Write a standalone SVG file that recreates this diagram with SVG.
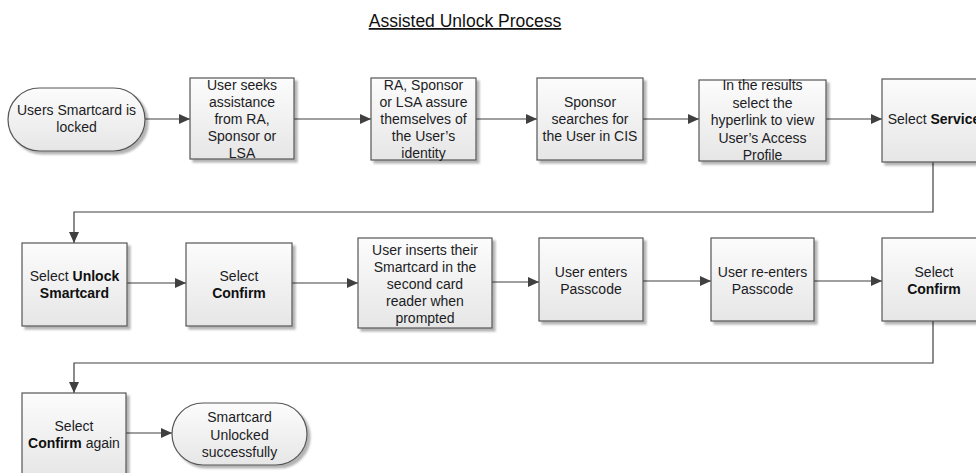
<svg xmlns="http://www.w3.org/2000/svg" width="976" height="473" viewBox="0 0 976 473">
  <defs>
    <linearGradient id="boxFill" x1="0" y1="0" x2="0" y2="1">
      <stop offset="0" stop-color="#fcfcfc"/>
      <stop offset="1" stop-color="#e6e6e6"/>
    </linearGradient>
    <marker id="arrow" markerUnits="userSpaceOnUse" markerWidth="12" markerHeight="10" refX="11" refY="5" orient="auto">
      <path d="M0,0 L11,5 L0,10 Z" fill="#404040"/>
    </marker>
    <filter id="shadow" x="-10%" y="-10%" width="130%" height="130%">
      <feOffset in="SourceAlpha" dx="3" dy="3" result="off"/>
      <feGaussianBlur in="off" stdDeviation="1" result="blur"/>
      <feComponentTransfer in="blur" result="soft">
        <feFuncA type="linear" slope="0.3"/>
      </feComponentTransfer>
      <feMerge>
        <feMergeNode in="soft"/>
        <feMergeNode in="SourceGraphic"/>
      </feMerge>
    </filter>
  </defs>
  <style>
    .shape { fill: url(#boxFill); stroke: #555555; stroke-width: 1.2; filter: url(#shadow); }
    .label { font-family: "Liberation Sans", Arial, sans-serif; font-size: 14px; fill: #1c1c24; text-anchor: middle; }
    .b { font-weight: bold; fill: #101010; }
    .title { font-family: "Liberation Sans", Arial, sans-serif; font-size: 17.5px; fill: #111111; text-anchor: middle; text-decoration: underline; }
    .conn { fill: none; stroke: #404040; stroke-width: 1.2; }
  </style>

  <rect width="976" height="473" fill="#ffffff"/>

  <text class="title" x="465" y="27">Assisted Unlock Process</text>

  <!-- connectors -->
  <g id="connectors">
    <path class="conn" d="M145,119 H190" marker-end="url(#arrow)"/>
    <path class="conn" d="M294,119 H371" marker-end="url(#arrow)"/>
    <path class="conn" d="M476,119 H537" marker-end="url(#arrow)"/>
    <path class="conn" d="M643,119 H699" marker-end="url(#arrow)"/>
    <path class="conn" d="M826,119 H882" marker-end="url(#arrow)"/>
    <path class="conn" d="M933,162 V212 H74 V243" marker-end="url(#arrow)"/>
    <path class="conn" d="M127,283 H186" marker-end="url(#arrow)"/>
    <path class="conn" d="M292,283 H358" marker-end="url(#arrow)"/>
    <path class="conn" d="M492,282 H539" marker-end="url(#arrow)"/>
    <path class="conn" d="M643,281 H711" marker-end="url(#arrow)"/>
    <path class="conn" d="M814,281 H882" marker-end="url(#arrow)"/>
    <path class="conn" d="M933,321 V363 H74 V393" marker-end="url(#arrow)"/>
    <path class="conn" d="M126,433 H172" marker-end="url(#arrow)"/>
  </g>

  <!-- row 1 -->
  <g id="start">
    <rect class="shape" x="8" y="88" width="137" height="63" rx="31.5" ry="31.5"/>
    <text class="label" x="76.5" y="115"><tspan x="76.5">Users Smartcard is</tspan><tspan x="76.5" dy="17">locked</tspan></text>
  </g>

  <g id="seek-assistance">
    <rect class="shape" x="190" y="78" width="104" height="81"/>
    <text class="label" y="90"><tspan x="242">User seeks</tspan><tspan x="242" dy="17">assistance</tspan><tspan x="242" dy="17">from RA,</tspan><tspan x="242" dy="17">Sponsor or</tspan><tspan x="242" dy="17">LSA</tspan></text>
  </g>

  <g id="assure-identity">
    <rect class="shape" x="371" y="78" width="105" height="82"/>
    <text class="label" y="90"><tspan x="423.5">RA, Sponsor</tspan><tspan x="423.5" dy="17">or LSA assure</tspan><tspan x="423.5" dy="17">themselves of</tspan><tspan x="423.5" dy="17">the User’s</tspan><tspan x="423.5" dy="17">identity</tspan></text>
  </g>

  <g id="search-cis">
    <rect class="shape" x="537" y="78" width="106" height="82"/>
    <text class="label" y="107"><tspan x="590">Sponsor</tspan><tspan x="590" dy="17">searches for</tspan><tspan x="590" dy="17">the User in CIS</tspan></text>
  </g>

  <g id="access-profile">
    <rect class="shape" x="699" y="80" width="127" height="81"/>
    <text class="label" y="90"><tspan x="762.5">In the results</tspan><tspan x="762.5" dy="17.5">select the</tspan><tspan x="762.5" dy="17.5">hyperlink to view</tspan><tspan x="762.5" dy="17.5">User’s Access</tspan><tspan x="762.5" dy="17.5">Profile</tspan></text>
  </g>

  <g id="select-service">
    <rect class="shape" x="882" y="79" width="104" height="83"/>
    <text class="label" x="934" y="124">Select <tspan class="b">Service</tspan></text>
  </g>

  <!-- row 2 -->
  <g id="select-unlock">
    <rect class="shape" x="22" y="243" width="105" height="83"/>
    <text class="label" y="281"><tspan x="74.5">Select <tspan class="b">Unlock</tspan></tspan><tspan x="74.5" dy="17" class="b">Smartcard</tspan></text>
  </g>

  <g id="select-confirm-1">
    <rect class="shape" x="186" y="243" width="106" height="83"/>
    <text class="label" y="281"><tspan x="239">Select</tspan><tspan x="239" dy="17" class="b">Confirm</tspan></text>
  </g>

  <g id="insert-card">
    <rect class="shape" x="358" y="238" width="134" height="90"/>
    <text class="label" y="255"><tspan x="425">User inserts their</tspan><tspan x="425" dy="17">Smartcard in the</tspan><tspan x="425" dy="17">second card</tspan><tspan x="425" dy="17">reader when</tspan><tspan x="425" dy="17">prompted</tspan></text>
  </g>

  <g id="enter-passcode">
    <rect class="shape" x="539" y="238" width="104" height="83"/>
    <text class="label" y="277"><tspan x="591">User enters</tspan><tspan x="591" dy="17">Passcode</tspan></text>
  </g>

  <g id="reenter-passcode">
    <rect class="shape" x="711" y="238" width="103" height="83"/>
    <text class="label" y="277"><tspan x="762.5">User re-enters</tspan><tspan x="762.5" dy="17">Passcode</tspan></text>
  </g>

  <g id="select-confirm-2">
    <rect class="shape" x="882" y="238" width="104" height="83"/>
    <text class="label" y="277"><tspan x="934">Select</tspan><tspan x="934" dy="17" class="b">Confirm</tspan></text>
  </g>

  <!-- row 3 -->
  <g id="select-confirm-again">
    <rect class="shape" x="22" y="393" width="104" height="84"/>
    <text class="label" y="431"><tspan x="74">Select</tspan><tspan x="74" dy="17"><tspan class="b">Confirm</tspan> again</tspan></text>
  </g>

  <g id="end">
    <rect class="shape" x="172" y="403" width="135" height="62" rx="31" ry="31"/>
    <text class="label" y="422"><tspan x="239.5">Smartcard</tspan><tspan x="239.5" dy="17.5">Unlocked</tspan><tspan x="239.5" dy="17.5">successfully</tspan></text>
  </g>
</svg>
